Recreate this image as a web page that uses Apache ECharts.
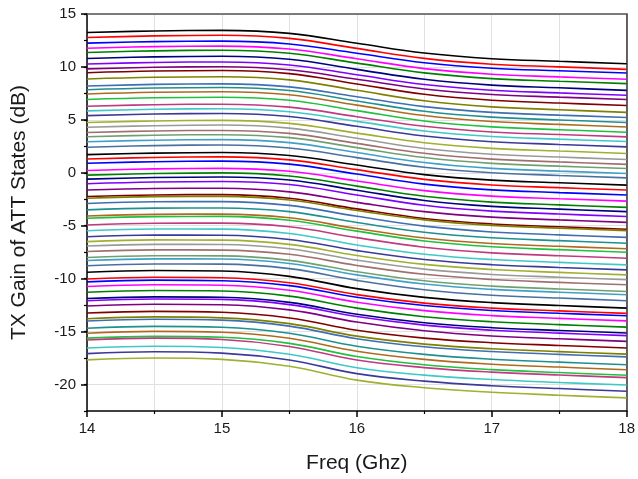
<!DOCTYPE html>
<html>
<head>
<meta charset="utf-8">
<script src="https://cdn.jsdelivr.net/npm/echarts@6/dist/echarts.min.js"></script>
<style>
html,body{margin:0;padding:0;background:#fff;}
#chart{width:638px;height:479px;}
</style>
</head>
<body>
<div id="chart"></div>
<script>
// Frequency points (GHz)
const freqs = [14, 14.5, 15, 15.5, 16, 16.5, 17, 17.5, 18];
// Axis ticks
const xMajorTicks = [14, 15, 16, 17, 18];
const yMajorTicks = [-20, -15, -10, -5, 0, 5, 10, 15];

// TX gain (dB) of the 64 attenuator states, read at the freqs above
const s01 = [13.25, 13.40, 13.45, 13.17, 12.24, 11.32, 10.78, 10.53, 10.30];
const s02 = [12.78, 12.93, 12.99, 12.70, 11.75, 10.81, 10.26, 10.01, 9.77];
const s03 = [12.25, 12.39, 12.44, 12.17, 11.29, 10.40, 9.88, 9.64, 9.42];
const s04 = [11.77, 11.92, 11.97, 11.69, 10.77, 9.84, 9.31, 9.06, 8.83];
const s05 = [11.37, 11.52, 11.57, 11.29, 10.36, 9.44, 8.90, 8.65, 8.42];
const s06 = [10.80, 10.95, 11.01, 10.72, 9.77, 8.83, 8.28, 8.03, 7.79];
const s07 = [10.27, 10.42, 10.47, 10.19, 9.26, 8.34, 7.80, 7.55, 7.32];
const s08 = [9.82, 9.97, 10.02, 9.74, 8.83, 7.92, 7.40, 7.15, 6.92];
const s09 = [9.45, 9.61, 9.66, 9.37, 8.39, 7.42, 6.86, 6.59, 6.35];
const s10 = [8.86, 9.02, 9.07, 8.78, 7.79, 6.80, 6.23, 5.96, 5.71];
const s11 = [8.20, 8.35, 8.40, 8.12, 7.18, 6.25, 5.71, 5.45, 5.22];
const s12 = [7.85, 8.01, 8.06, 7.77, 6.79, 5.82, 5.26, 4.99, 4.75];
const s13 = [7.45, 7.61, 7.66, 7.37, 6.39, 5.41, 4.84, 4.57, 4.33];
const s14 = [6.93, 7.09, 7.14, 6.85, 5.87, 4.90, 4.34, 4.07, 3.83];
const s15 = [6.28, 6.43, 6.48, 6.20, 5.30, 4.39, 3.86, 3.62, 3.39];
const s16 = [5.85, 6.00, 6.05, 5.77, 4.86, 3.95, 3.43, 3.18, 2.95];
const s17 = [5.40, 5.55, 5.60, 5.32, 4.39, 3.47, 2.93, 2.68, 2.45];
const s18 = [4.75, 4.90, 4.95, 4.67, 3.75, 2.84, 2.31, 2.06, 1.83];
const s19 = [4.30, 4.45, 4.51, 4.22, 3.26, 2.30, 1.75, 1.49, 1.25];
const s20 = [3.80, 3.95, 4.00, 3.72, 2.78, 1.84, 1.29, 1.03, 0.80];
const s21 = [3.40, 3.55, 3.60, 3.32, 2.38, 1.44, 0.89, 0.63, 0.40];
const s22 = [2.93, 3.08, 3.13, 2.85, 1.91, 0.97, 0.42, 0.16, -0.06];
const s23 = [2.42, 2.57, 2.62, 2.34, 1.43, 0.52, 0.00, -0.25, -0.48];
const s24 = [1.72, 1.86, 1.92, 1.64, 0.74, -0.17, -0.69, -0.94, -1.16];
const s25 = [1.30, 1.45, 1.50, 1.22, 0.30, -0.62, -1.15, -1.40, -1.63];
const s26 = [0.90, 1.05, 1.10, 0.82, -0.12, -1.07, -1.61, -1.87, -2.10];
const s27 = [0.22, 0.37, 0.42, 0.14, -0.77, -1.68, -2.20, -2.45, -2.68];
const s28 = [-0.22, -0.07, -0.01, -0.30, -1.26, -2.22, -2.77, -3.03, -3.27];
const s29 = [-0.60, -0.45, -0.39, -0.68, -1.65, -2.61, -3.17, -3.43, -3.67];
const s30 = [-1.03, -0.87, -0.82, -1.11, -2.09, -3.06, -3.62, -3.89, -4.13];
const s31 = [-1.63, -1.48, -1.46, -1.80, -2.79, -3.67, -4.19, -4.45, -4.68];
const s32 = [-2.24, -2.09, -2.06, -2.41, -3.41, -4.31, -4.83, -5.10, -5.33];
const s33 = [-2.40, -2.25, -2.23, -2.57, -3.56, -4.45, -4.97, -5.23, -5.46];
const s34 = [-2.90, -2.74, -2.72, -3.08, -4.11, -5.04, -5.59, -5.86, -6.10];
const s35 = [-3.50, -3.34, -3.32, -3.67, -4.69, -5.61, -6.14, -6.41, -6.65];
const s36 = [-4.08, -3.93, -3.90, -4.25, -5.26, -6.16, -6.68, -6.94, -7.18];
const s37 = [-4.30, -4.14, -4.12, -4.48, -5.51, -6.44, -6.99, -7.26, -7.50];
const s38 = [-4.93, -4.77, -4.75, -5.10, -6.12, -7.03, -7.56, -7.83, -8.07];
const s39 = [-5.47, -5.31, -5.32, -5.74, -6.82, -7.69, -8.19, -8.46, -8.70];
const s40 = [-6.04, -5.88, -5.90, -6.30, -7.35, -8.19, -8.68, -8.94, -9.17];
const s41 = [-6.50, -6.34, -6.36, -6.76, -7.81, -8.65, -9.14, -9.41, -9.64];
const s42 = [-6.92, -6.76, -6.77, -7.18, -8.25, -9.10, -9.60, -9.86, -10.10];
const s43 = [-7.44, -7.28, -7.30, -7.70, -8.75, -9.59, -10.08, -10.35, -10.58];
const s44 = [-8.00, -7.84, -7.85, -8.27, -9.34, -10.20, -10.70, -10.97, -11.21];
const s45 = [-8.29, -8.13, -8.14, -8.56, -9.64, -10.51, -11.01, -11.28, -11.52];
const s46 = [-8.78, -8.62, -8.63, -9.05, -10.16, -11.04, -11.56, -11.83, -12.08];
const s47 = [-9.40, -9.23, -9.28, -9.78, -10.94, -11.77, -12.26, -12.53, -12.78];
const s48 = [-10.03, -9.87, -9.91, -10.39, -11.51, -12.31, -12.78, -13.04, -13.28];
const s49 = [-10.30, -10.14, -10.19, -10.66, -11.76, -12.54, -13.01, -13.27, -13.50];
const s50 = [-10.74, -10.58, -10.62, -11.10, -12.22, -13.02, -13.49, -13.75, -13.99];
const s51 = [-11.28, -11.12, -11.16, -11.65, -12.78, -13.59, -14.07, -14.34, -14.58];
const s52 = [-11.88, -11.72, -11.76, -12.24, -13.36, -14.16, -14.63, -14.89, -15.13];
const s53 = [-12.08, -11.92, -11.96, -12.45, -13.58, -14.39, -14.87, -15.14, -15.38];
const s54 = [-12.58, -12.41, -12.46, -12.95, -14.10, -14.92, -15.41, -15.68, -15.92];
const s55 = [-13.25, -13.09, -13.17, -13.71, -14.88, -15.62, -16.05, -16.31, -16.55];
const s56 = [-13.78, -13.61, -13.70, -14.25, -15.43, -16.18, -16.62, -16.89, -17.13];
const s57 = [-14.00, -13.83, -13.92, -14.48, -15.67, -16.43, -16.88, -17.15, -17.39];
const s58 = [-14.68, -14.51, -14.59, -15.16, -16.38, -17.15, -17.61, -17.88, -18.13];
const s59 = [-15.15, -14.98, -15.06, -15.63, -16.85, -17.62, -18.08, -18.35, -18.60];
const s60 = [-15.62, -15.45, -15.53, -16.11, -17.35, -18.13, -18.59, -18.87, -19.12];
const s61 = [-15.80, -15.62, -15.75, -16.40, -17.69, -18.40, -18.83, -19.10, -19.35];
const s62 = [-16.55, -16.38, -16.50, -17.14, -18.41, -19.11, -19.53, -19.81, -20.05];
const s63 = [-17.08, -16.90, -17.03, -17.68, -18.97, -19.68, -20.11, -20.38, -20.63];
const s64 = [-17.67, -17.49, -17.62, -18.27, -19.58, -20.30, -20.73, -21.01, -21.26];

const states = [s01,s02,s03,s04,s05,s06,s07,s08,s09,s10,s11,s12,s13,s14,s15,s16,
  s17,s18,s19,s20,s21,s22,s23,s24,s25,s26,s27,s28,s29,s30,s31,s32,
  s33,s34,s35,s36,s37,s38,s39,s40,s41,s42,s43,s44,s45,s46,s47,s48,
  s49,s50,s51,s52,s53,s54,s55,s56,s57,s58,s59,s60,s61,s62,s63,s64];

// Line colour cycle (23 colours)
const palette = ['#000000','#ff0000','#0000ff','#ff00ff','#008000','#000080','#8000ff',
  '#800080','#800000','#808000','#3f6fb0','#1f9090','#b06a20','#20c040','#c03a80',
  '#40c8c8','#3a3a9a','#a0b030','#9a9a9a','#a07070','#70a070','#40a0c8','#4a70a0'];

const FONT = 'Liberation Sans, Arial, sans-serif';
const chart = echarts.init(document.getElementById('chart'), null, {renderer: 'canvas'});

const series = states.map((vals, i) => ({
  type: 'line',
  name: 'State ' + (i + 1),
  data: freqs.map((f, k) => [f, vals[k]]),
  xAxisIndex: 0,
  yAxisIndex: 0,
  showSymbol: false,
  smooth: 0.4,
  lineStyle: {width: 1.6, color: palette[i % palette.length]},
  itemStyle: {color: palette[i % palette.length]},
  z: 3
}));

const grid = {left: 87, right: 11, top: 14, bottom: 67};
const gridColor = '#e0e0e0';

chart.setOption({
  animation: false,
  backgroundColor: '#ffffff',
  grid: grid,
  xAxis: [
    {
      type: 'value', position: 'bottom', min: 14, max: 18, interval: 1,
      name: 'Freq (Ghz)', nameLocation: 'middle', nameGap: 42,
      nameTextStyle: {fontFamily: FONT, fontSize: 21, color: '#1a1a1a'},
      axisLine: {show: true, onZero: false, lineStyle: {color: '#000', width: 1.5}},
      axisTick: {show: true, length: 6, lineStyle: {color: '#000', width: 1.5}},
      minorTick: {show: true, splitNumber: 2, length: 3, lineStyle: {color: '#000', width: 1.2}},
      axisLabel: {margin: 10, fontFamily: FONT, fontSize: 15, color: '#1a1a1a'},
      splitLine: {show: true, lineStyle: {color: gridColor, width: 1}},
      minorSplitLine: {show: true, lineStyle: {color: gridColor, width: 1}}
    },
    {
      type: 'value', position: 'top', min: 14, max: 18,
      axisLine: {show: true, onZero: false, lineStyle: {color: '#555', width: 1.5}},
      axisTick: {show: false}, axisLabel: {show: false}, splitLine: {show: false}
    }
  ],
  yAxis: [
    {
      type: 'value', position: 'left', min: -22.5, max: 15, interval: 2.5,
      name: 'TX Gain of ATT States (dB)', nameLocation: 'middle', nameGap: 57,
      nameTextStyle: {fontFamily: FONT, fontSize: 21, color: '#1a1a1a'},
      axisLine: {show: true, onZero: false, lineStyle: {color: '#000', width: 1.5}},
      axisTick: {show: true, length: 6, customValues: yMajorTicks, lineStyle: {color: '#000', width: 1.5}},
      axisLabel: {
        margin: 11, fontFamily: FONT, fontSize: 15, color: '#1a1a1a',
        customValues: yMajorTicks,
        formatter: v => (yMajorTicks.indexOf(v) >= 0 ? String(v) : '')
      },
      splitLine: {show: true, lineStyle: {color: gridColor, width: 1}}
    },
    {
      type: 'value', position: 'left', min: -22.5, max: 15, interval: 2.5,
      axisLine: {show: false},
      axisTick: {show: true, length: 3, lineStyle: {color: '#000', width: 1.2}},
      axisLabel: {show: false}, splitLine: {show: false}
    },
    {
      type: 'value', position: 'right', min: -22.5, max: 15,
      axisLine: {show: true, onZero: false, lineStyle: {color: '#333', width: 1.5}},
      axisTick: {show: false}, axisLabel: {show: false}, splitLine: {show: false}
    }
  ],
  series: series
});
</script>
</body>
</html>
